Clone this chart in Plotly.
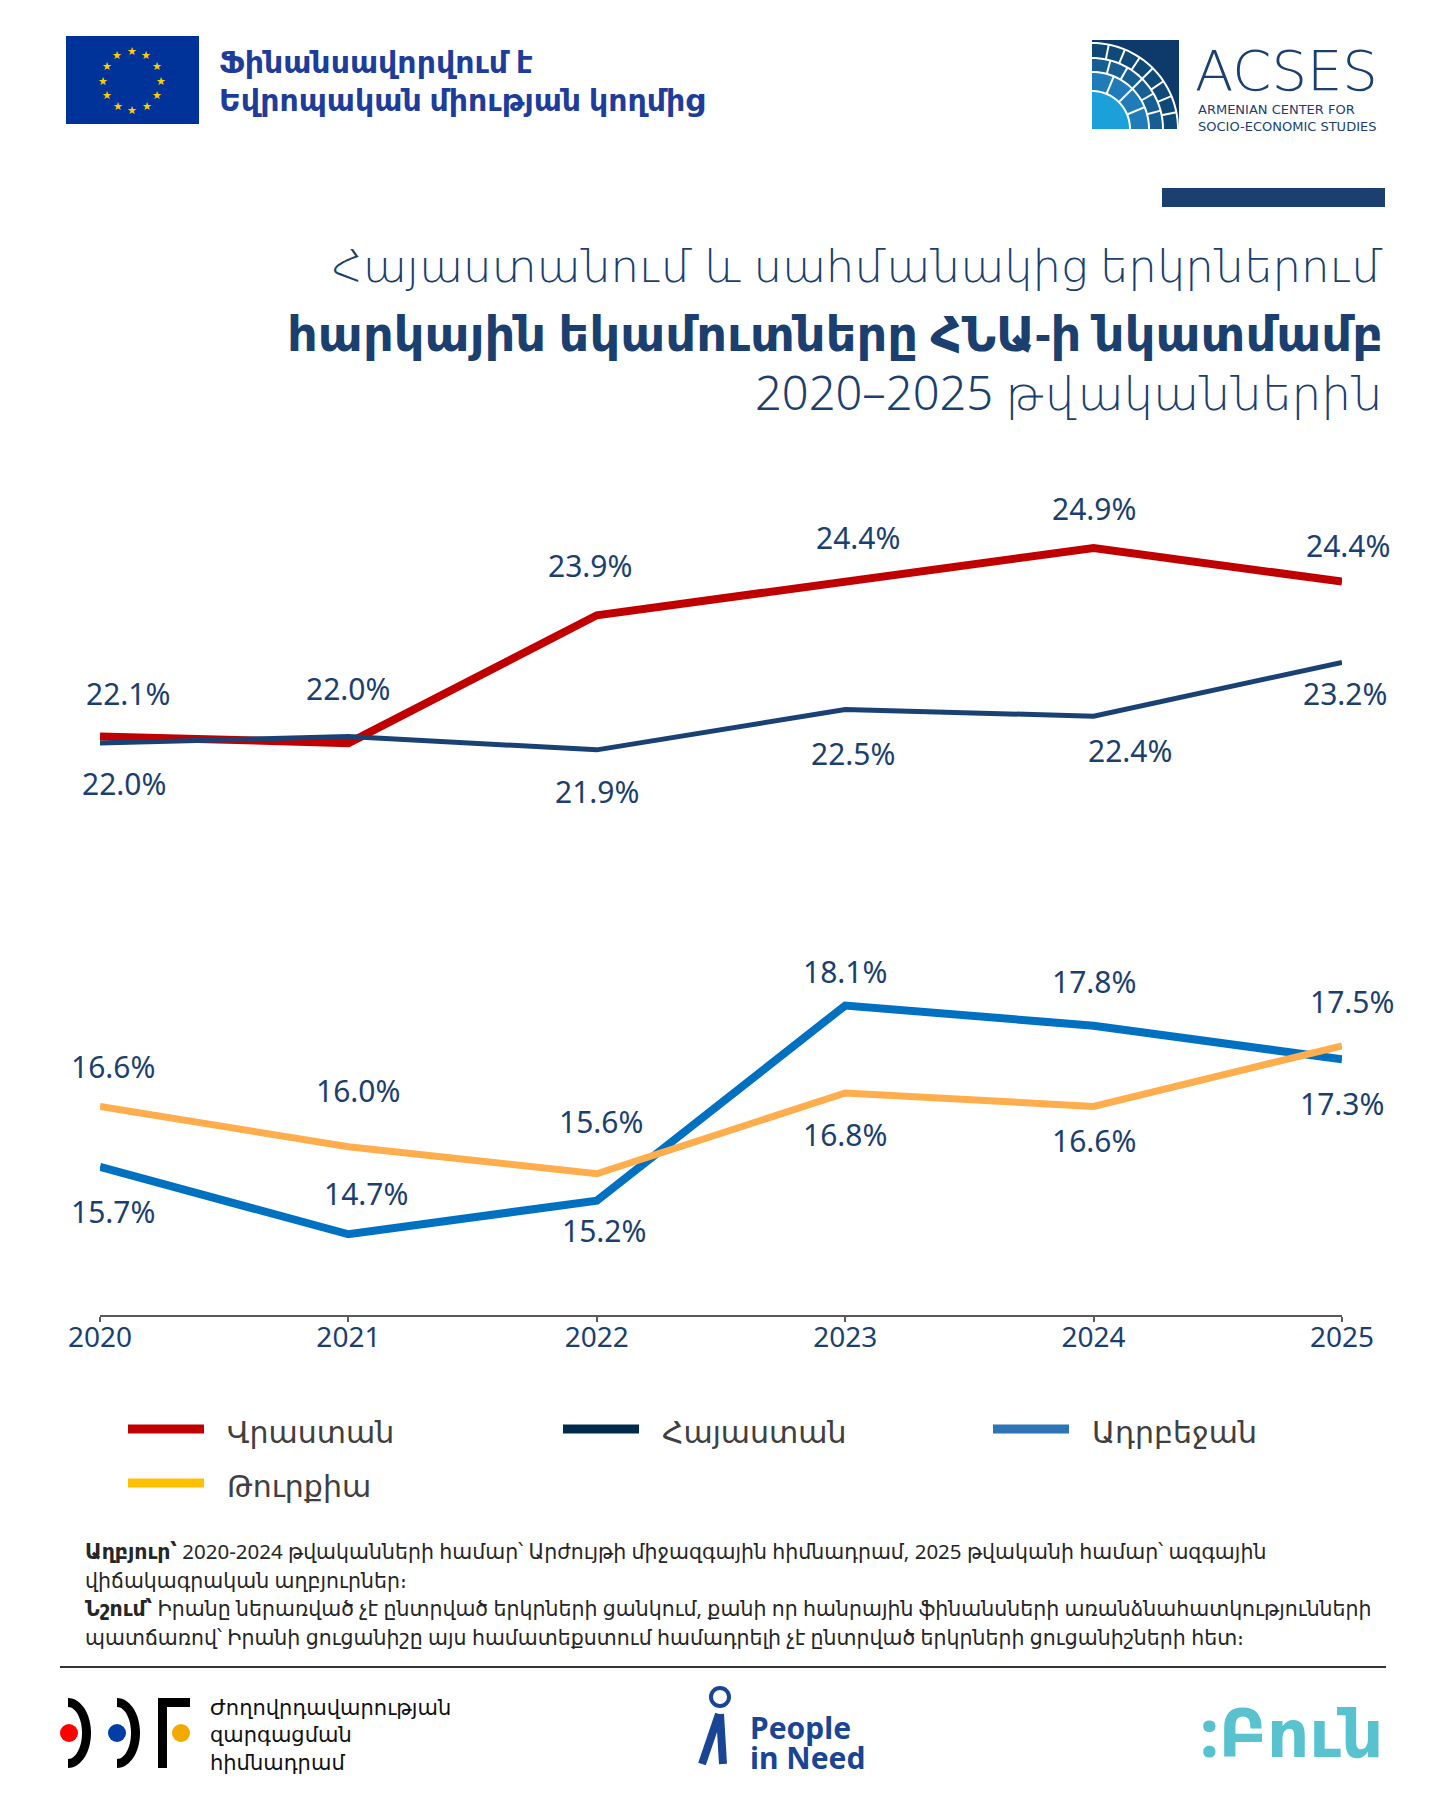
import numpy as np
import plotly.graph_objs as go

years = [2020, 2021, 2022, 2023, 2024, 2025]
georgia = [22.1, 22.0, 23.9, 24.4, 24.9, 24.4]
armenia = [22.0, 22.1, 21.9, 22.5, 22.4, 23.2]
azerbaijan = [15.7, 14.7, 15.2, 18.1, 17.8, 17.3]
turkey = [16.6, 16.0, 15.6, 16.8, 16.6, 17.5]

names = ['Վրաստան', 'Հայաստան', 'Ադրբեջան', 'Թուրքիա']

# label offsets in px from the point (dy up, dx right); None = no label
georgia_dy = [43, 55, 50, 44, 40, 36]
georgia_dx = [28, 0, -7, 13, 0, 6]
armenia_dy = [-40, None, -42, -44, -34, -31]
armenia_dx = [24, 0, 0, 8, 36, 3]
azerbaijan_dy = [-45, 41, -30, 34, 44, -44]
azerbaijan_dx = [13, 18, 7, 0, 0, 0]
turkey_dy = [40, 56, 52, -42, -34, 44]
turkey_dx = [13, 10, 4, 0, 0, 10]

line_colors = ['#C00000', '#1A4174', '#0070C0', '#FFAD4D']
legend_colors = ['#C00000', '#002A4C', '#2E75B6', '#FFC000']
line_widths = [8, 5, 8, 7]

NAVY = '#1B3F6E'
FONT = 'Noto Sans, DejaVu Sans'

# plot area in page pixels (used to place the decorations)
X0, X1 = 100, 1342
Y0, Y1 = 474, 1315


def px(x):
    return (x - X0) / (X1 - X0)


def py(y):
    return (Y1 - y) / (Y1 - Y0)


series = [georgia, armenia, azerbaijan, turkey]
offsets = [(georgia_dy, georgia_dx), (armenia_dy, armenia_dx),
           (azerbaijan_dy, azerbaijan_dx), (turkey_dy, turkey_dx)]

fig = go.Figure()
for name, vals, col, w in zip(names, series, line_colors, line_widths):
    fig.add_trace(go.Scatter(x=years, y=vals, mode='lines', name=name,
                             line=dict(color=col, width=w),
                             showlegend=False, cliponaxis=False))

annotations = []
for vals, (dys, dxs) in zip(series, offsets):
    for yr, v, dy, dx in zip(years, vals, dys, dxs):
        if dy is None:
            continue
        annotations.append(dict(
            x=yr, y=v, xref='x', yref='y', text=f'{v:.1f}%',
            showarrow=False, yshift=dy, xshift=dx,
            font=dict(size=30, color=NAVY, family=FONT)))

shapes = []


def text(x, y, s, size, color=NAVY, xanchor='left', weight=None, family=FONT):
    f = dict(size=size, color=color, family=family)
    if weight:
        f['weight'] = weight
    annotations.append(dict(x=px(x), y=py(y), xref='paper', yref='paper',
                            text=s, showarrow=False, xanchor=xanchor,
                            yanchor='middle', align=xanchor if xanchor != 'center' else 'center',
                            font=f))


def rect(x0, y0, x1, y1, color):
    shapes.append(dict(type='rect', xref='paper', yref='paper',
                       x0=px(x0), x1=px(x1), y0=py(y1), y1=py(y0),
                       fillcolor=color, line=dict(width=0)))


def poly(pts, color, lw=0, lc='white'):
    d = 'M ' + ' L '.join(f'{px(a):.5f},{py(b):.5f}' for a, b in pts) + ' Z'
    shapes.append(dict(type='path', xref='paper', yref='paper', path=d,
                       fillcolor=color, line=dict(width=lw, color=lc)))


def seg(xa, ya, xb, yb, color, w):
    shapes.append(dict(type='line', xref='paper', yref='paper',
                       x0=px(xa), y0=py(ya), x1=px(xb), y1=py(yb),
                       line=dict(color=color, width=w)))


def circ(cx, cy, r, color, outline=None, w=0):
    shapes.append(dict(type='circle', xref='paper', yref='paper',
                       x0=px(cx - r), x1=px(cx + r), y0=py(cy + r), y1=py(cy - r),
                       fillcolor=color if outline is None else 'rgba(0,0,0,0)',
                       line=dict(width=w, color=outline or color)))


# header: EU flag
rect(66, 36, 199, 124, '#003399')
for a in np.linspace(0, 2 * np.pi, 12, endpoint=False):
    text(132 + 29 * np.cos(a), 80 + 29 * np.sin(a), '★', 11, '#FFCC00', 'center')
text(217, 61, 'Ֆինանսավորվում է', 30, '#1E3D9A', weight=700)
text(217, 99, 'Եվրոպական միության կողմից', 30, '#1E3D9A', weight=700)

# header: ACSES logo
rect(1092, 40, 1179, 129, '#0D3A6B')
cx, cy = 1092, 129
rings = [(0, 38, '#1BA0DA'), (38, 57, '#1F7CB8'), (57, 71, '#175E93'), (71, 86, '#0F4977')]
for r0, r1, col in reversed(rings):
    t = np.linspace(0, np.pi / 2, 30)
    pts = [(cx + r1 * np.cos(a), cy - r1 * np.sin(a)) for a in t]
    pts += [(cx + r0 * np.cos(a), cy - r0 * np.sin(a)) for a in t[::-1]]
    poly(pts, col)
for r in [38, 57, 71, 86]:
    t = np.linspace(0, np.pi / 2, 30)
    pts = [(cx + r * np.cos(a), cy - r * np.sin(a)) for a in t]
    d = 'M ' + ' L '.join(f'{px(a):.5f},{py(b):.5f}' for a, b in pts)
    shapes.append(dict(type='path', xref='paper', yref='paper', path=d,
                       line=dict(color='white', width=2)))
for (r0, r1, _), n in zip(rings[1:], [4, 6, 8]):
    for a in np.linspace(0, np.pi / 2, n + 1)[1:-1]:
        seg(cx + r0 * np.cos(a), cy - r0 * np.sin(a),
            cx + r1 * np.cos(a), cy - r1 * np.sin(a), 'white', 2)
text(1193, 70, 'ACSES', 56, NAVY, weight=200, family='DejaVu Sans')
text(1196, 118, 'ARMENIAN CENTER FOR<br>SOCIO-ECONOMIC STUDIES', 13, NAVY,
     family='DejaVu Sans')

# header: accent bar and title
rect(1162, 188, 1385, 207, NAVY)
text(1385, 265, 'Հայաստանում և սահմանակից երկրներում', 45, NAVY, 'right', weight=300)
text(1385, 332, 'հարկային եկամուտները ՀՆԱ-ի նկատմամբ', 48, NAVY, 'right', weight=700)
text(1385, 392, '2020–2025 թվականներին', 47, NAVY, 'right', weight=300)

# legend
leg_x = [128, 563, 993, 128]
leg_y = [1429, 1429, 1429, 1483]
for name, col, lx, ly in zip(names, legend_colors, leg_x, leg_y):
    seg(lx, ly, lx + 76, ly, col, 9)
    text(lx + 97, ly + 2, name, 30, '#404040')

# source and note
notes = [
    '<b>Աղբյուր՝</b> 2020-2024 թվականների համար՝ Արժույթի միջազգային հիմնադրամ, 2025 թվականի համար՝ ազգային',
    'վիճակագրական աղբյուրներ։',
    '<b>Նշում՝</b> Իրանը ներառված չէ ընտրված երկրների ցանկում, քանի որ հանրային ֆինանսների առանձնահատկությունների',
    'պատճառով՝ Իրանի ցուցանիշը այս համատեքստում համադրելի չէ ընտրված երկրների ցուցանիշների հետ։',
]
for k, s in enumerate(notes):
    text(83, 1551 + 28.5 * k, s, 20.5, '#262626')

seg(60, 1667, 1386, 1667, '#333333', 2)

# footer: foundation logo
for acx in [68, 117]:
    t = np.linspace(-np.pi / 2, np.pi / 2, 30)
    pts = [(acx + 23 * np.cos(a), 1733 + 35 * np.sin(a)) for a in t]
    pts += [(acx + 14 * np.cos(a), 1733 + 26 * np.sin(a)) for a in t[::-1]]
    poly(pts, 'black')
rect(158, 1698, 167, 1768, 'black')
rect(158, 1698, 190, 1707, 'black')
circ(69, 1733, 9, '#FF0000')
circ(117, 1733, 9, '#003DA5')
circ(181, 1733, 9, '#F2A900')
text(208, 1734, 'Ժողովրդավարության<br>զարգացման<br>հիմնադրամ', 21, '#111111', weight=500)

# footer: People in Need logo
PIN = '#1A4594'
circ(720, 1697, 9, None, PIN, 4)
seg(719, 1714, 702, 1764, PIN, 8)
seg(720, 1714, 723, 1764, PIN, 8)
text(748, 1727, 'People', 30, PIN, weight=700)
text(748, 1757, 'in Need', 30, PIN, weight=700)

# footer: third logo
text(1385, 1731, ':Բուն', 66, '#58C3CE', 'right', weight=800)

fig.update_layout(
    width=1440, height=1800,
    margin=dict(l=X0, r=1440 - X1, t=Y0, b=1800 - Y1),
    paper_bgcolor='white', plot_bgcolor='white',
    showlegend=False,
    xaxis=dict(range=[years[0], years[-1]], tickvals=years,
               showgrid=False, zeroline=False, showline=True,
               linecolor='#595959', linewidth=1.5,
               ticks='outside', ticklen=5, tickcolor='#595959', tickwidth=1.5,
               ticklabelstandoff=-8,
               tickfont=dict(size=28, color=NAVY, family=FONT)),
    yaxis=dict(range=[13.5, 26.0], visible=False),
    annotations=annotations,
    shapes=shapes,
)

fig.write_html('out.html', config={'displayModeBar': False},
               post_script="document.body.style.margin='0';")
